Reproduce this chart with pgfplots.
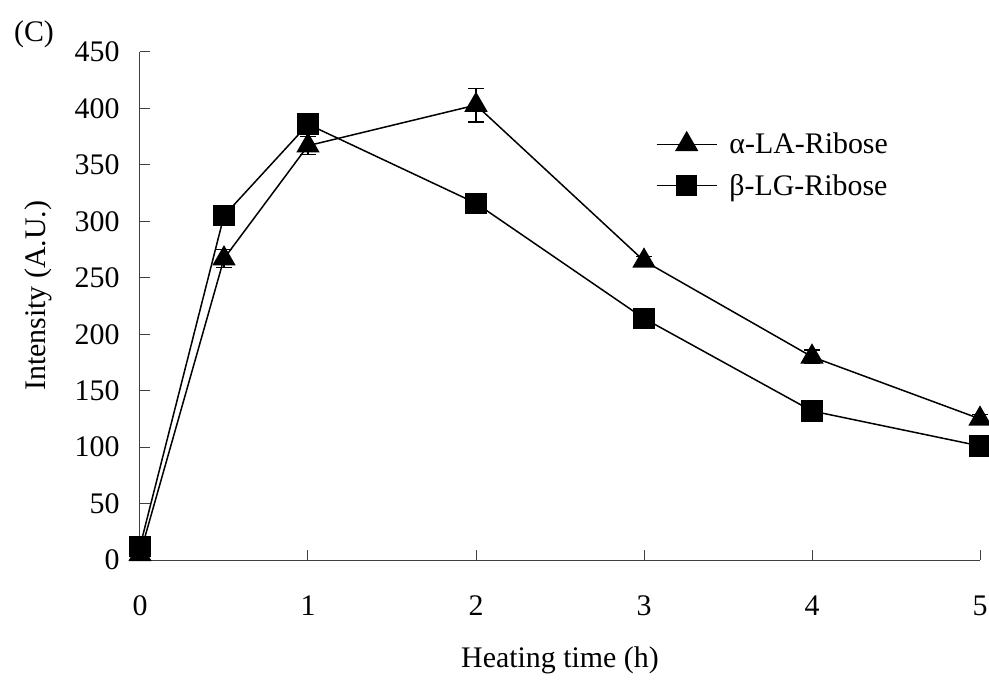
\documentclass[border=0pt]{standalone}
\usepackage{fontspec}
\setmainfont{Liberation Serif}
\usepackage{pgfplots}
\pgfplotsset{compat=1.18}
\begin{document}
\begin{tikzpicture}
\path[use as bounding box] (-140bp,-121bp) rectangle (849bp,560bp);
\begin{axis}[
  at={(0,0)}, anchor=south west,
  scale only axis, width=840bp, height=508bp,
  xmin=0, xmax=5, ymin=0, ymax=450,
  axis lines=left, axis line style={-, line width=1bp, black!75},
  xtick={0,1,2,3,4,5}, ytick={0,50,...,450},
  tick align=inside, major tick length=10bp,
  tick style={line width=1bp, black!75},
  /pgf/number format/assume math mode=true,
  font=\fontsize{30}{36}\selectfont,
  ticklabel style={font=\fontsize{30}{36}\selectfont},
  yticklabel style={xshift=-17bp},
  xticklabel style={yshift=-32bp},
  xlabel={Heating time (h)},
  ylabel={Intensity (A.U.)},
  xlabel style={at={(axis description cs:0.5,-0.197)}, anchor=center},
  ylabel style={at={(axis description cs:-0.121,0.52)}, anchor=center},
  clip=false,
  legend style={draw=none, fill=none, at={(axis cs:3.07,380)}, anchor=north west,
    font=\fontsize{30}{36}\selectfont, row sep=15bp, inner sep=0pt,
    /tikz/every odd column/.append style={column sep=10bp}},
  legend cell align=left,
  legend image code/.code={\draw[mark repeat=2,mark phase=2,#1] plot coordinates {(0bp,0bp) (30bp,0bp) (60bp,0bp)};},
]
\addplot[black, line width=1.5bp, mark=triangle*, mark size=12bp,
  error bars/.cd, y dir=both, y explicit, error bar style={line width=1.2bp}, error mark options={rotate=90, mark size=8bp, line width=1.2bp}]
  coordinates {(0,5) +- (0,2) (0.5,267) +- (0,8) (1,367) +- (0,8) (2,403) +- (0,15) (3,265) +- (0,4) (4,180) +- (0,6) (5,125) +- (0,4)};
\addlegendentry{α-LA-Ribose}
\addplot[black, line width=1.5bp, mark=square*, mark size=10bp]
  coordinates {(0,12) (0.5,305) (1,386) (2,316) (3,214) (4,132) (5,101)};
\addlegendentry{β-LG-Ribose}
\end{axis}
\node at (-106bp,526bp) {\fontsize{30}{36}\selectfont (C)};
\end{tikzpicture}
\end{document}
